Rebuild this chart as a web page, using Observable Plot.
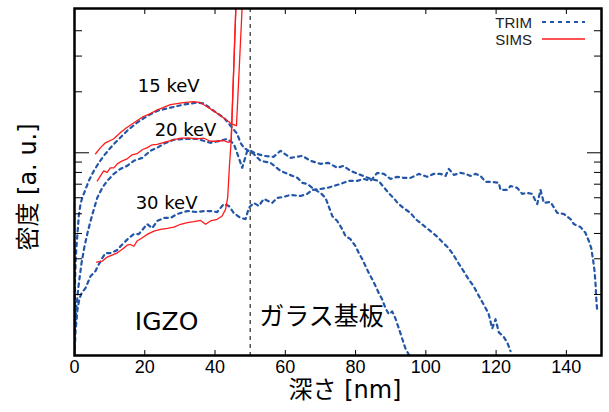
<!DOCTYPE html>
<html><head><meta charset="utf-8">
<script src="https://cdn.jsdelivr.net/npm/d3@7"></script>
<script src="https://cdn.jsdelivr.net/npm/@observablehq/plot@0.6"></script>
<style>body{margin:0;background:#fff}</style>
</head><body><div id="chart"></div>
<script>
// depth [nm], density [a.u.] (log scale, relative units)
const trim15 = [[0.0,0.105],[0.1,0.165],[0.14,0.232],[0.37,0.309],[0.77,0.384],[1.22,0.488],[1.71,0.559],[2.19,0.599],[2.65,0.627],[4.07,0.727],[5.49,0.814],[6.92,0.892],[8.34,0.966],[10.25,1.059],[12.15,1.147],[15.0,1.285],[17.85,1.41],[20.69,1.52],[23.54,1.61],[27.33,1.67],[31.11,1.73],[34.93,1.77],[36.81,1.75],[39.65,1.61],[42.5,1.49],[44.41,1.36],[46.31,1.24],[47.25,1.12],[48.19,1.059],[49.53,1.023],[50.95,0.989],[52.95,0.913],[55.79,0.892],[58.64,0.814],[60.63,0.787],[63.48,0.752],[64.9,0.71],[66.24,0.702],[68.12,0.663],[70.03,0.634],[71.45,0.599],[72.3,0.547],[73.36,0.488],[74.78,0.461],[76.2,0.42],[77.14,0.388],[78.56,0.375],[79.99,0.346],[80.93,0.32],[81.9,0.299],[82.83,0.276],[83.77,0.255],[84.74,0.238],[85.68,0.22],[86.63,0.203],[87.59,0.189],[88.53,0.171],[89.47,0.16],[90.43,0.165],[91.37,0.152],[92.32,0.136],[93.28,0.121],[94.22,0.108],[95.16,0.101]];
const trim20 = [[0,0.131],[0.57,0.175],[1.14,0.22],[1.99,0.285],[2.85,0.346],[3.7,0.402],[4.41,0.45],[5.04,0.493],[6.46,0.599],[7.89,0.671],[9.31,0.727],[11.19,0.787],[13.09,0.833],[15.0,0.862],[16.88,0.913],[19.27,0.944],[21.63,1.023],[23.54,1.059],[25.42,1.108],[28.27,1.16],[31.11,1.17],[34.93,1.17],[38.71,1.12],[41.56,1.147],[43.47,1.17],[45.35,1.108],[46.77,0.944],[47.74,0.843],[49.16,1.023],[50.1,1.023],[51.81,0.989],[53.8,0.966],[56.65,0.955],[58.64,1.023],[61.49,0.944],[64.82,0.966],[67.18,0.913],[70.03,0.882],[72.3,0.892],[74.78,0.843],[76.57,0.862],[78.56,0.814],[81.41,0.778],[84.26,0.743],[86.54,0.727],[87.96,0.679],[89.38,0.634],[90.81,0.599],[91.94,0.566],[93.65,0.534],[95.64,0.505],[97.07,0.471],[98.49,0.45],[99.91,0.43],[101.34,0.411],[103.33,0.384],[105.04,0.358],[106.46,0.339],[107.88,0.313],[109.31,0.285],[110.73,0.261],[112.15,0.238],[113.58,0.22],[115.0,0.198],[116.42,0.179],[117.85,0.161],[118.9,0.136],[119.84,0.151],[120.78,0.13],[122.12,0.124],[123.26,0.115],[124.11,0.105]];
const trim30 = [[0,0.099],[0.28,0.131],[0.85,0.169],[1.42,0.191],[1.99,0.203],[3.13,0.215],[4.55,0.246],[5.98,0.261],[6.92,0.282],[7.89,0.302],[8.82,0.32],[10.25,0.32],[12.15,0.331],[13.09,0.346],[15.46,0.38],[16.88,0.397],[18.3,0.397],[20.69,0.445],[22.12,0.425],[23.54,0.461],[25.42,0.477],[27.33,0.477],[29.23,0.499],[32.08,0.516],[34.93,0.51],[36.81,0.516],[38.71,0.516],[40.62,0.51],[42.5,0.559],[43.92,0.547],[45.35,0.505],[47.25,0.477],[48.68,0.471],[49.62,0.534],[51.04,0.566],[52.46,0.547],[53.89,0.592],[56.28,0.566],[57.7,0.599],[59.58,0.606],[61.49,0.62],[64.33,0.612],[66.24,0.627],[67.66,0.656],[70.03,0.663],[71.93,0.671],[73.81,0.686],[75.72,0.702],[78.08,0.727],[80.47,0.727],[82.35,0.743],[84.26,0.727],[86.17,0.796],[88.05,0.787],[89.95,0.743],[91.86,0.761],[93.74,0.752],[95.64,0.752],[98.01,0.787],[100.4,0.761],[102.28,0.787],[104.18,0.787],[105.61,0.769],[106.55,0.833],[107.97,0.778],[109.88,0.796],[111.3,0.787],[112.72,0.769],[114.15,0.787],[115.57,0.769],[116.99,0.719],[118.9,0.719],[120.78,0.71],[121.26,0.656],[123.17,0.656],[124.11,0.686],[126.02,0.671],[127.44,0.627],[128.86,0.634],[130.29,0.627],[131.23,0.578],[131.71,0.559],[132.65,0.656],[133.59,0.566],[135.5,0.572],[137.41,0.505],[139.28,0.499],[141.19,0.471],[142.13,0.445],[144.04,0.43],[145.46,0.402],[146.4,0.367],[147.08,0.339],[147.65,0.292],[148.02,0.261],[148.31,0.225],[148.51,0.191],[148.79,0.165]];
const sims15 = [[6.0,0.989],[7.4,1.06],[8.8,1.12],[11.1,1.17],[13.1,1.26],[14.8,1.33],[16.5,1.39],[19.6,1.51],[21.6,1.56],[23.6,1.63],[25.9,1.69],[27.3,1.73],[31.0,1.77],[33.9,1.79],[35.9,1.77],[36.7,1.73],[39.6,1.61],[42.4,1.49],[44.7,1.39],[46.1,1.36],[48.5,10]];
const sims20 = [[6.5,0.727],[7.4,0.77],[8.3,0.814],[9.3,0.8],[10.2,0.843],[11.2,0.843],[12.2,0.882],[13.6,0.913],[15.0,0.934],[16.4,0.977],[17.8,0.99],[19.3,1.035],[20.7,1.06],[22.1,1.095],[23.5,1.1],[27.3,1.147],[30.2,1.18],[33.0,1.18],[34.9,1.17],[36.8,1.18],[38.7,1.14],[40.6,1.14],[42.4,1.15],[43.8,1.125],[44.6,1.15],[46.5,10]];
const sims30 = [[6.3,0.289],[7.9,0.292],[9.3,0.306],[10.7,0.313],[12.2,0.321],[13.6,0.334],[15.0,0.35],[15.9,0.353],[16.9,0.346],[17.8,0.367],[19.3,0.381],[20.7,0.396],[22.6,0.411],[24.5,0.419],[26.4,0.424],[28.3,0.43],[30.2,0.444],[32.1,0.452],[34.0,0.457],[35.9,0.464],[37.3,0.444],[38.7,0.461],[40.6,0.47],[42.0,0.488],[43.0,0.526],[43.6,0.601],[44.1,0.862],[44.6,1.15],[46.5,10]];

const xTicks = [0, 20, 40, 60, 80, 100, 120, 140];
const yMajorTicks = [1];
const yMinorTicks = [0.2, 0.3, 0.4, 0.5, 0.6, 0.7, 0.8, 0.9, 2, 3, 4];
const interfaceDepth = [50];
const energyLabels = [
  {text: "15 keV", x: 26.8, y: 2.12},
  {text: "20 keV", x: 31.6, y: 1.285},
  {text: "30 keV", x: 26.2, y: 0.566}
];
const layerLabels = [{text: "IGZO", x: 26.2, y: 0.147}];
const substrateLabels = [{text: "ガラス基板", x: 70.3, y: 0.154}];
const legendItems = [
  {name: "TRIM", color: "#2456a8", dash: "4,4", width: 2},
  {name: "SIMS", color: "#ff1a1a", dash: null, width: 1.3}
];

const rows = (pairs, method, energy) => pairs.map(([d, v]) => ({depth: d, value: v, method, energy}));
const trimRows = [...rows(trim15, "TRIM", "15"), ...rows(trim20, "TRIM", "20"), ...rows(trim30, "TRIM", "30")];
const simsRows = [...rows(sims15, "SIMS", "15"), ...rows(sims20, "SIMS", "20"), ...rows(sims30, "SIMS", "30")];

const FW = 609, FH = 412, ML = 74, MR = 8, MT = 8, MB = 57;
const latin = "DejaVu Sans, 'Noto Sans CJK JP', sans-serif";

const chart = Plot.plot({
  width: FW, height: FH,
  marginLeft: ML, marginRight: MR, marginTop: MT, marginBottom: MB,
  x: {domain: [0, 150]},
  y: {type: "log", domain: [0.1, 5.15]},
  style: {fontFamily: "Liberation Sans", fontSize: "18px", color: "black", background: "white", overflow: "visible"},
  marks: [
    Plot.ruleX(interfaceDepth, {stroke: "black", strokeWidth: 1, strokeDasharray: "4,4"}),
    Plot.line(trimRows, {x: "depth", y: "value", z: "energy", stroke: legendItems[0].color, strokeWidth: 2.2, strokeDasharray: "3.5,4", clip: true}),
    Plot.line(simsRows, {x: "depth", y: "value", z: "energy", stroke: legendItems[1].color, strokeWidth: 1.3, clip: true}),
    Plot.text(energyLabels, {x: "x", y: "y", text: "text", fontSize: 18, fontFamily: latin, fill: "black"}),
    Plot.text(layerLabels, {x: "x", y: "y", text: "text", fontSize: 25, fontFamily: latin, fill: "black"}),
    Plot.text(substrateLabels, {x: "x", y: "y", text: "text", fontSize: 25, fontFamily: "'Noto Sans CJK JP', sans-serif", fill: "black"}),
    Plot.axisX(xTicks, {anchor: "bottom", tickSize: -5, tickPadding: 10, label: null, fontSize: 18}),
    Plot.axisX(xTicks, {anchor: "top", tickSize: -5, tickFormat: () => "", label: null}),
    Plot.axisY(yMajorTicks, {anchor: "left", tickSize: -15, tickFormat: () => "", label: null}),
    Plot.axisY(yMinorTicks, {anchor: "left", tickSize: -8, tickFormat: () => "", label: null}),
    Plot.axisY(yMajorTicks, {anchor: "right", tickSize: -15, tickFormat: () => "", label: null}),
    Plot.axisY(yMinorTicks, {anchor: "right", tickSize: -8, tickFormat: () => "", label: null}),
    Plot.text(["深さ [nm]"], {frameAnchor: "bottom", dx: 7, dy: 35, textAnchor: "middle", lineAnchor: "middle", fontSize: 24, fontFamily: latin, fill: "black"}),
    Plot.text(["密度 [a. u.]"], {frameAnchor: "left", dx: -46, dy: 5, rotate: -90, textAnchor: "middle", lineAnchor: "middle", fontSize: 24, fontFamily: latin, fill: "black"}),
    Plot.frame({stroke: "black", strokeWidth: 2.5})
  ]
});
document.getElementById("chart").appendChild(chart);

// legend, placed relative to the frame's top-right corner
const svg = d3.select(chart);
const right = FW - MR;
const lg = svg.append("g").attr("font-family", "Liberation Sans").attr("font-size", 15);
legendItems.forEach((item, i) => {
  const yy = MT + 14 + i * 17;
  lg.append("text").attr("x", right - 69).attr("y", yy).attr("text-anchor", "end")
    .attr("dominant-baseline", "central").attr("fill", "#222").text(item.name);
  const ln = lg.append("line").attr("x1", right - 59).attr("x2", right - 16).attr("y1", yy).attr("y2", yy)
    .attr("stroke", item.color).attr("stroke-width", item.width);
  if (item.dash) ln.attr("stroke-dasharray", item.dash);
});
</script>
</body></html>
